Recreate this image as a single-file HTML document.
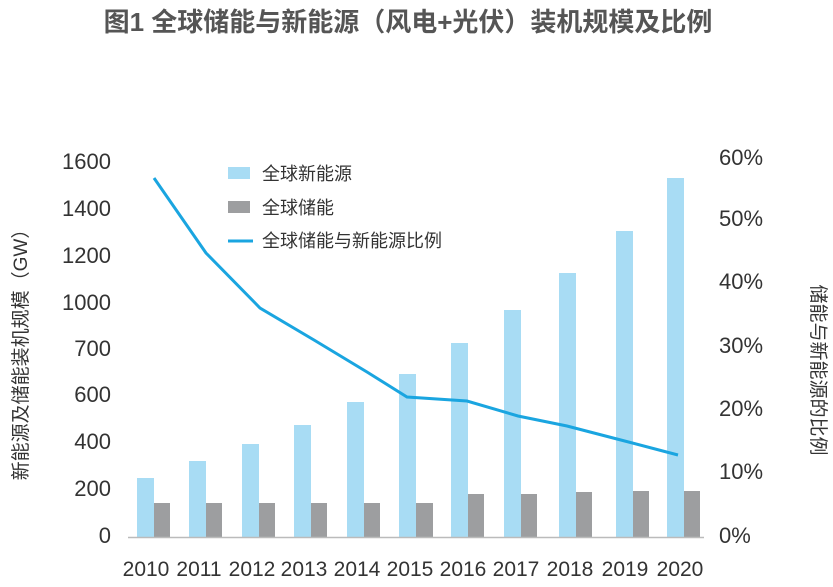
<!DOCTYPE html>
<html><head><meta charset="utf-8"><style>
body{margin:0;background:#fff;}
svg text{font-family:"Liberation Sans","Noto Sans CJK SC",sans-serif;fill:#333;}
</style></head><body>
<svg width="833" height="582" xmlns="http://www.w3.org/2000/svg">
<text x="408" y="31" text-anchor="middle" font-size="26" font-weight="bold" style="fill:#555">图1 全球储能与新能源（风电+光伏）装机规模及比例</text>
<g font-size="22" text-anchor="end">
<text x="111" y="169">1600</text><text x="111" y="216">1400</text><text x="111" y="263">1200</text>
<text x="111" y="310">1000</text><text x="111" y="356">700</text><text x="111" y="402">600</text>
<text x="111" y="449">400</text><text x="111" y="496">200</text><text x="111" y="543">0</text>
</g>
<g font-size="22">
<text x="719" y="165">60%</text><text x="719" y="226">50%</text><text x="719" y="289">40%</text>
<text x="719" y="353">30%</text><text x="719" y="416">20%</text><text x="719" y="479">10%</text><text x="719" y="543">0%</text>
</g>
<text transform="translate(27,350) rotate(-90)" text-anchor="middle" font-size="19">新能源及储能装机规模（GW）</text>
<text transform="translate(812,370) rotate(90)" text-anchor="middle" font-size="19">储能与新能源的比例</text>
<g fill="#a8dcf4">
<rect x="137" y="478" width="17" height="59"/><rect x="189" y="461" width="17" height="76"/>
<rect x="242" y="444" width="17" height="93"/><rect x="294" y="425" width="17" height="112"/>
<rect x="347" y="402" width="17" height="135"/><rect x="399" y="374" width="17" height="163"/>
<rect x="451" y="343" width="17" height="194"/><rect x="504" y="310" width="17" height="227"/>
<rect x="559" y="273" width="17" height="264"/><rect x="616" y="231" width="17" height="306"/>
<rect x="667" y="178" width="17" height="359"/>
</g>
<g fill="#9d9ea0">
<rect x="154" y="503" width="16" height="34"/><rect x="206" y="503" width="16" height="34"/>
<rect x="259" y="503" width="16" height="34"/><rect x="311" y="503" width="16" height="34"/>
<rect x="364" y="503" width="16" height="34"/><rect x="416" y="503" width="17" height="34"/>
<rect x="468" y="494" width="16" height="43"/><rect x="521" y="494" width="16" height="43"/>
<rect x="576" y="492" width="16" height="45"/><rect x="633" y="491" width="16" height="46"/>
<rect x="684" y="491" width="16" height="46"/>
</g>
<line x1="128" y1="537.5" x2="704" y2="537.5" stroke="#bbb" stroke-width="1.5"/>
<polyline points="154,178 206,253 260,308 314,340 367,372 407,397 467,401 518,416 567,426 617,439 678,455" fill="none" stroke="#1aa5e0" stroke-width="3"/>
<g font-size="21" text-anchor="middle">
<text x="146" y="576">2010</text><text x="199" y="576">2011</text><text x="252" y="576">2012</text>
<text x="304" y="576">2013</text><text x="357" y="576">2014</text><text x="410" y="576">2015</text>
<text x="463" y="576">2016</text><text x="516" y="576">2017</text><text x="570" y="576">2018</text>
<text x="625" y="576">2019</text><text x="680" y="576">2020</text>
</g>
<rect x="228" y="167" width="22" height="12" fill="#a8dcf4"/>
<text x="262" y="180" font-size="18">全球新能源</text>
<rect x="228" y="201" width="22" height="12" fill="#9d9ea0"/>
<text x="262" y="214" font-size="18">全球储能</text>
<line x1="228" y1="241" x2="253" y2="241" stroke="#1aa5e0" stroke-width="3"/>
<text x="262" y="247" font-size="18">全球储能与新能源比例</text>
</svg>
</body></html>
